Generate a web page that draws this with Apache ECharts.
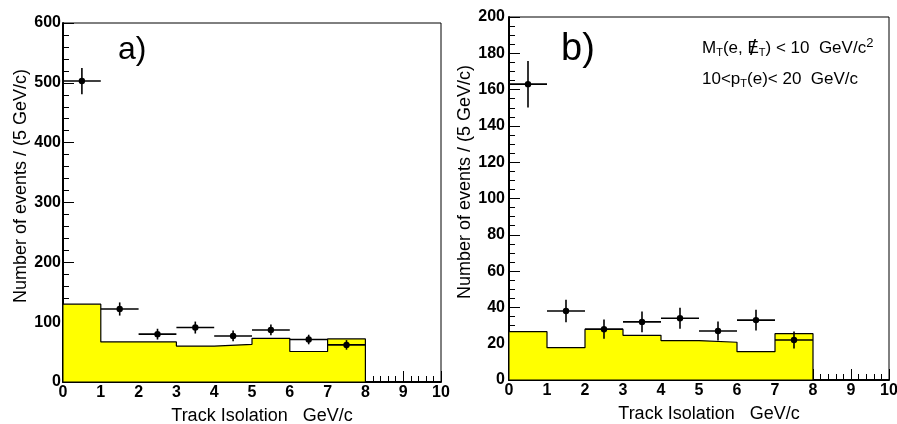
<!DOCTYPE html>
<html>

<head>
    <meta charset="UTF-8">
    <style type="text/css">
        body {
            margin: 0;
            padding: 0;
            overflow: hidden;
            background: #fff;
        }

        #chart {
            width: 897px;
            height: 424px;
            position: absolute
        }
    </style>
</head>

<body>
    <div id="chart"></div>
    <script src="https://cdn.jsdelivr.net/npm/echarts@6/dist/echarts.min.js"></script>
    <script>
        // bins of track isolation (GeV/c)
        let binLo = [0, 1, 2, 3, 4, 5, 6, 7];
        let binCenters = [0.5, 1.5, 2.5, 3.5, 4.5, 5.5, 6.5, 7.5];
        let histEnd = 8;

        // panel a)
        let mcA = [130, 67, 67, 60, 63, 73, 51, 72];
        let dataA = [503, 122, 80, 91, 77, 87, 71, 62];
        let errA = [22, 11, 9, 10, 9, 9, 8, 8];

        // panel b)
        let mcB = [26.6, 17.8, 28, 24.6, 21.7, 20.8, 15.6, 25.5];
        let dataB = [163, 38, 28, 32, 34, 27, 33, 22];
        let errB = [12.8, 6.2, 5.3, 5.7, 5.8, 5.2, 5.7, 4.7];

        let FONT = 'Liberation Sans';
        let YELLOW = '#ffff00';

        var myChart = echarts.init(document.getElementById('chart'));

        function stepData(mc) {
            let pts = binLo.map((x, i) => [x, mc[i]]);
            pts.push([histEnd, 0]);
            return pts;
        }

        function pointData(vals, errs) {
            return binCenters.map((x, i) => [x, vals[i], errs[i]]);
        }

        function renderErr(params, api) {
            let x = api.value(0), y = api.value(1), e = api.value(2);
            let c = api.coord([x, y]);
            let l = api.coord([x - 0.5, y]);
            let r = api.coord([x + 0.5, y]);
            let t = api.coord([x, y + e]);
            let b = api.coord([x, y - e]);
            let ls = { stroke: '#000', lineWidth: 1.6 };
            return {
                type: 'group',
                children: [
                    { type: 'line', shape: { x1: l[0], y1: l[1], x2: r[0], y2: r[1] }, style: ls },
                    { type: 'line', shape: { x1: t[0], y1: t[1], x2: b[0], y2: b[1] }, style: ls },
                    { type: 'circle', shape: { cx: c[0], cy: c[1], r: 3.2 }, style: { fill: '#000' } }
                ]
            };
        }

        function xAxisCfg(idx) {
            return {
                type: 'value', gridIndex: idx, min: 0, max: 10, interval: 1,
                name: 'Track Isolation   GeV/c', nameLocation: 'middle', nameGap: 25,
                nameTextStyle: { fontFamily: FONT, fontSize: 18, color: '#000', padding: [0, 0, 0, 20] },
                axisLine: { lineStyle: { color: '#000', width: 2 } },
                axisTick: { inside: true, length: 11, lineStyle: { color: '#000', width: 1 } },
                minorTick: { show: true, splitNumber: 5, length: 6, lineStyle: { color: '#000', width: 1 } },
                splitLine: { show: false },
                axisLabel: { fontFamily: FONT, fontWeight: 900, fontSize: 16, color: '#000', margin: 3 }
            };
        }

        function yAxisCfg(idx, max, interval, minorSplit, labelMargin, nameGap) {
            return {
                type: 'value', gridIndex: idx, min: 0, max: max, interval: interval,
                name: 'Number of events / (5 GeV/c)', nameLocation: 'middle', nameGap: nameGap,
                nameTextStyle: { fontFamily: FONT, fontSize: 18, color: '#000', padding: [0, 0, 0, 33] },
                axisLine: { lineStyle: { color: '#000', width: 2 } },
                axisTick: { inside: true, length: 11, lineStyle: { color: '#000', width: 1 } },
                minorTick: { show: true, splitNumber: minorSplit, length: 6, lineStyle: { color: '#000', width: 1 } },
                splitLine: { show: false },
                axisLabel: { fontFamily: FONT, fontWeight: 900, fontSize: 16, color: '#000', margin: labelMargin }
            };
        }

        function histSeries(idx, mc) {
            return {
                type: 'line', xAxisIndex: idx, yAxisIndex: idx, step: 'end',
                data: stepData(mc), symbol: 'none', silent: true, z: 2,
                lineStyle: { color: '#000', width: 1.2 },
                areaStyle: { color: YELLOW, opacity: 1 }
            };
        }

        function errSeries(idx, vals, errs) {
            return {
                type: 'custom', xAxisIndex: idx, yAxisIndex: idx, z: 4,
                data: pointData(vals, errs), renderItem: renderErr
            };
        }

        let option = {
            animation: false,
            grid: [
                { left: 63, top: 23, width: 378, height: 359, outerBoundsMode: 'none', show: true, borderColor: '#000', borderWidth: 1, backgroundColor: 'transparent', z: 3 },
                { left: 509, top: 17, width: 380, height: 363, outerBoundsMode: 'none', show: true, borderColor: '#000', borderWidth: 1, backgroundColor: 'transparent', z: 3 }
            ],
            xAxis: [xAxisCfg(0), xAxisCfg(1)],
            yAxis: [
                yAxisCfg(0, 600, 100, 5, 2, 33),
                yAxisCfg(1, 200, 20, 4, 4, 30)
            ],
            series: [
                histSeries(0, mcA),
                histSeries(1, mcB),
                errSeries(0, dataA, errA),
                errSeries(1, dataB, errB)
            ],
            graphic: [
                { type: 'text', left: 118, top: 34, style: { text: 'a)', font: '32px ' + FONT, fill: '#000' } },
                { type: 'text', left: 561, top: 31, style: { text: 'b)', font: '38px ' + FONT, fill: '#000' } },
                {
                    type: 'text', left: 702, top: 37,
                    style: {
                        text: '{n|M}{s|T}{n|(e, E}{s|T}{n|) < 10  GeV/c}{p|2}',
                        fill: '#000',
                        rich: {
                            n: { fontFamily: FONT, fontSize: 17, fill: '#000' },
                            s: { fontFamily: FONT, fontSize: 11, fill: '#000', padding: [9, 0, 0, 0] },
                            p: { fontFamily: FONT, fontSize: 13, fill: '#000', padding: [0, 0, 9, 0] }
                        }
                    }
                },
                // slash over the E of missing E_T
                { type: 'text', left: 750, top: 38, style: { text: '/', font: '22px ' + FONT, fill: '#000' } },
                {
                    type: 'text', left: 702, top: 71,
                    style: {
                        text: '{n|10<p}{s|T}{n|(e)< 20  GeV/c}',
                        fill: '#000',
                        rich: {
                            n: { fontFamily: FONT, fontSize: 17, fill: '#000' },
                            s: { fontFamily: FONT, fontSize: 11, fill: '#000', padding: [9, 0, 0, 0] }
                        }
                    }
                }
            ]
        };
        myChart.setOption(option);
    </script>
</body>

</html>
